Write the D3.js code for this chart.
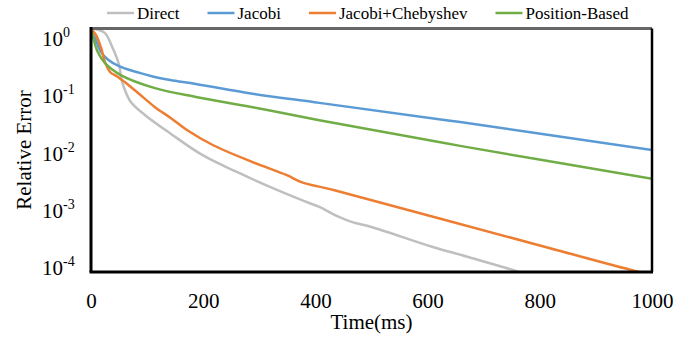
<!DOCTYPE html>
<html>
<head>
<meta charset="utf-8">
<script src="https://cdn.jsdelivr.net/npm/d3@7"></script>
<style>
  body { margin: 0; background: #fff; }
  svg text { font-family: "Liberation Serif", "Times New Roman", Times, serif; fill: #000; }
</style>
</head>
<body>
<div id="chart"></div>
<script>
// series: [time ms, relative error]
const direct = [
  [0, 1], [10, 0.97], [25, 0.84], [39, 0.47], [46, 0.33], [51, 0.23], [54, 0.15],
  [60, 0.1], [71, 0.062], [96, 0.038], [141, 0.019], [199, 0.0083], [260, 0.0044],
  [319, 0.0025], [377, 0.0015], [407, 0.00117], [434, 0.00087], [466, 0.00066],
  [500, 0.00055], [608, 0.00026], [669, 0.00018], [763, 0.0001], [800, 0.000075]
];
const jacobi = [
  [0, 1], [3, 0.8], [7, 0.7], [18, 0.41], [30, 0.31], [50, 0.24], [110, 0.163],
  [141, 0.143], [187, 0.123], [288, 0.085], [407, 0.06], [658, 0.029], [1000, 0.0101]
];
const chebyshev = [
  [0, 1], [9, 0.78], [18, 0.48], [25, 0.28], [34, 0.193], [48, 0.16], [60, 0.132],
  [84, 0.087], [114, 0.051], [142, 0.034], [171, 0.0215], [217, 0.0122], [288, 0.0064],
  [349, 0.0039], [375, 0.003], [434, 0.0022], [815, 0.00025], [977, 0.0001], [1000, 0.00009]
];
const positionBased = [
  [0, 1], [4, 0.7], [12, 0.41], [25, 0.27], [53, 0.172], [114, 0.105], [187, 0.075],
  [288, 0.051], [407, 0.031], [658, 0.0118], [1000, 0.0034]
];

const seriesNames = ['Direct', 'Jacobi', 'Jacobi+Chebyshev', 'Position-Based'];
const seriesColors = ['#bfbfbf', '#5b9bd5', '#ed7d31', '#70ad47'];
const seriesData = [direct, jacobi, chebyshev, positionBased];

const xTicks = [0, 200, 400, 600, 800, 1000];
const yTicks = [1, 1e-1, 1e-2, 1e-3, 1e-4];
const yTickExp = ['0', '-1', '-2', '-3', '-4'];

const width = 689, height = 337;
const margin = { top: 28.5, right: 37, bottom: 65, left: 91 };
const plotW = 652 - margin.left;
const plotH = 272 - margin.top;

const svg = d3.select('#chart').append('svg')
  .attr('width', width)
  .attr('height', height);

const x = d3.scaleLinear().domain([0, 1000]).range([margin.left, margin.left + plotW]);
const y = d3.scaleLog().domain([1e-4, 1]).range([margin.top + plotH, margin.top]);
// tick labels sit on a slightly tighter spacing than the frame in the original
const yLabel = d3.scaleLog().domain([1e-4, 1]).range([267, 38]);

svg.append('clipPath').attr('id', 'plot-clip')
  .append('rect')
  .attr('x', margin.left).attr('y', margin.top - 2)
  .attr('width', plotW).attr('height', plotH + 2);

const line = d3.line()
  .x(d => x(d[0]))
  .y(d => y(d[1]))
  .curve(d3.curveCatmullRom.alpha(0.5));

svg.append('g').attr('clip-path', 'url(#plot-clip)')
  .selectAll('path')
  .data(seriesData)
  .enter().append('path')
  .attr('d', d => line(d))
  .attr('fill', 'none')
  .attr('stroke', (d, i) => seriesColors[i])
  .attr('stroke-width', 2.5);

// frame
svg.append('line')
  .attr('x1', x(0)).attr('x2', x(1000))
  .attr('y1', y(1)).attr('y2', y(1))
  .attr('stroke', '#666').attr('stroke-width', 3);
svg.append('line')
  .attr('x1', x(1000)).attr('x2', x(1000))
  .attr('y1', y(1)).attr('y2', y(1e-4))
  .attr('stroke', '#000').attr('stroke-width', 2.5);
svg.append('line')
  .attr('x1', x(0) - 1.5).attr('x2', x(1000) + 1)
  .attr('y1', y(1e-4)).attr('y2', y(1e-4))
  .attr('stroke', '#000').attr('stroke-width', 3);
svg.append('line')
  .attr('x1', x(0)).attr('x2', x(0))
  .attr('y1', y(1) - 1.5).attr('y2', y(1e-4))
  .attr('stroke', '#000').attr('stroke-width', 3);

// x axis labels
const xAxis = d3.axisBottom(x).tickValues(xTicks).tickFormat(d3.format('d')).tickSize(0).tickPadding(0);
const gx = svg.append('g')
  .attr('transform', 'translate(0,' + (y(1e-4)) + ')')
  .call(xAxis)
  .attr('font-family', null)
  .attr('font-size', null);
gx.select('.domain').remove();
gx.selectAll('text')
  .attr('y', 36).attr('dy', null)
  .attr('fill', '#000')
  .style('font-size', '21px');

// y axis labels with superscript exponents
const yl = svg.append('g').selectAll('text')
  .data(yTicks)
  .enter().append('text')
  .attr('x', 42)
  .attr('y', d => yLabel(d) + 8)
  .style('font-size', '21px');
yl.append('tspan').text('10');
yl.append('tspan')
  .attr('dy', -9)
  .style('font-size', '14px')
  .text((d, i) => yTickExp[i]);

// axis titles
svg.append('text')
  .attr('x', (x(0) + x(1000)) / 2)
  .attr('y', 329)
  .attr('text-anchor', 'middle')
  .style('font-size', '21px')
  .text('Time(ms)');

svg.append('text')
  .attr('transform', 'translate(31,150) rotate(-90)')
  .attr('text-anchor', 'middle')
  .style('font-size', '21px')
  .text('Relative Error');

// legend
let lx = 107;
seriesNames.forEach((name, i) => {
  const g = svg.append('g').attr('transform', 'translate(' + lx + ',13)');
  g.append('line')
    .attr('x1', 0).attr('x2', 27)
    .attr('stroke', seriesColors[i]).attr('stroke-width', 2.5);
  const t = g.append('text')
    .attr('x', 30).attr('y', 5.5)
    .style('font-size', '17px')
    .text(name);
  lx += 30 + t.node().getComputedTextLength() + 28;
});
</script>
</body>
</html>
